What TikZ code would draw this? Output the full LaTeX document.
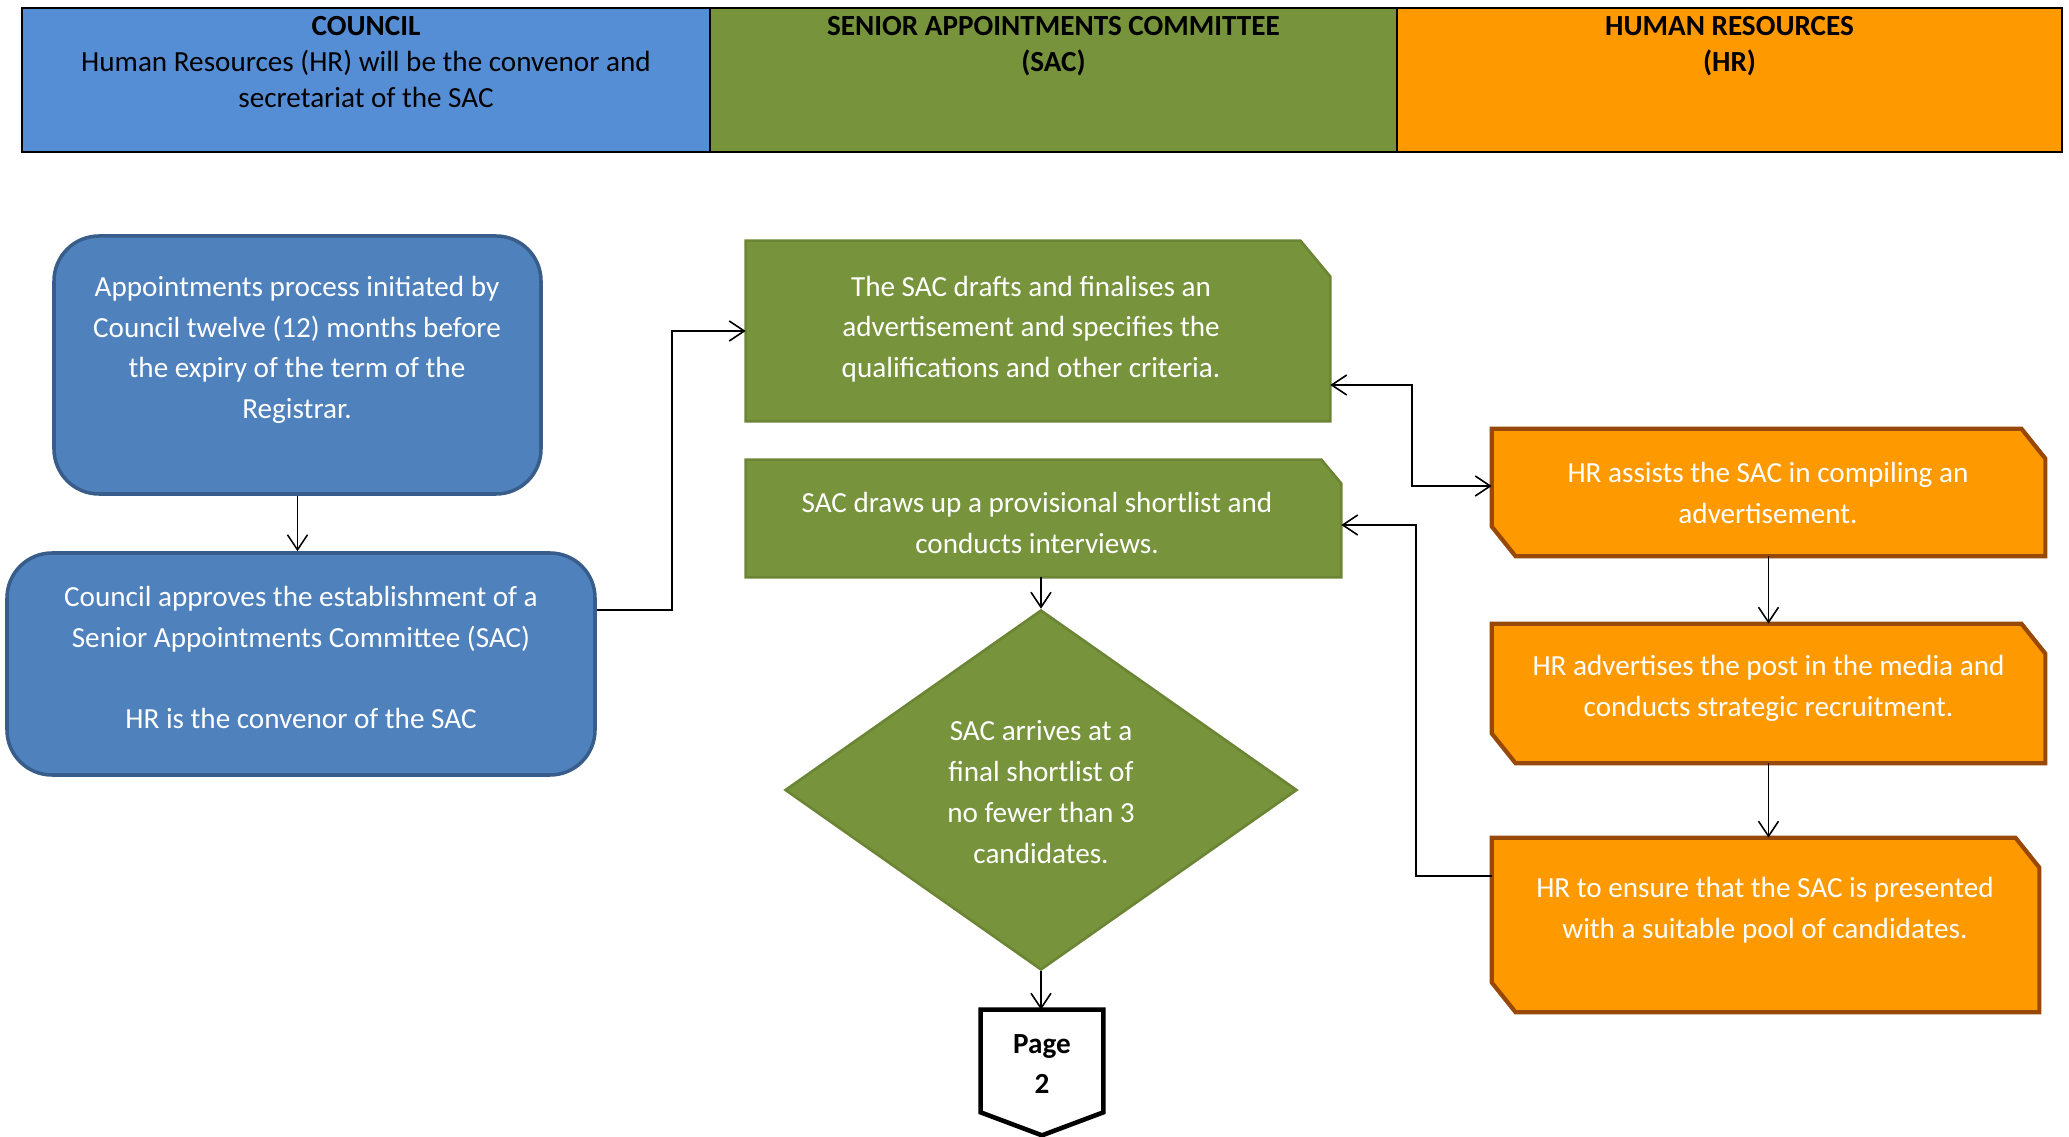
\documentclass[tikz,border=0pt]{standalone}
\usepackage{fontspec}
\setmainfont{Carlito}
\usepackage{tikz}
\usetikzlibrary{shapes.geometric,arrows.meta}
\definecolor{headblue}{HTML}{558ED5}
\definecolor{councilblue}{HTML}{4F81BD}
\definecolor{councilline}{HTML}{385D8A}
\definecolor{sacgreen}{HTML}{77933C}
\definecolor{sacline}{HTML}{6B8535}
\definecolor{hrorange}{HTML}{FF9900}
\definecolor{hrline}{HTML}{984807}
\newcommand{\boxfont}{\fontsize{16.6pt}{23.2pt}\selectfont}
\newcommand{\headcell}[5]{
	\node [draw, line width=1.6pt, fill=#4, minimum width=#3, minimum height=2.88cm] (#1) at (#2) {};
	\node [headtext, anchor=north] at ([yshift=-0.18cm]#1.north) {#5};}
\newcommand{\councilstep}[6]{
	\node [draw=councilline, fill=councilblue, line width=2pt, rounded corners=0.9cm, minimum width=#3, minimum height=#4] (#1) at (#2) {};
	\node [steptext] at (#5) {#6};}
\newcommand{\sacstep}[7]{
	\node [minimum width=#3, minimum height=#4, inner sep=0pt] (#1) at (#2) {};
	\filldraw [fill=sacgreen, draw=sacline, line width=1.5pt] (#1.south west) -- (#1.north west) -- ([xshift=-#5]#1.north east) -- ([yshift=-1.2*#5]#1.north east) -- (#1.south east) -- cycle;
	\node [steptext] at (#6) {#7};}
\newcommand{\hrstep}[6]{
	\node [minimum width=#3, minimum height=#4, inner sep=0pt] (#1) at (#2) {};
	\filldraw [fill=hrorange, draw=hrline, line width=2.4pt] (#1.north west) -- ([xshift=-0.48cm]#1.north east) -- ([yshift=-0.6cm]#1.north east) -- (#1.south east) -- ([xshift=0.48cm]#1.south west) -- ([yshift=0.6cm]#1.south west) -- cycle;
	\node [steptext] at (#5) {#6};}

\begin{document}
\begin{tikzpicture}[>={Straight Barb[length=3mm,width=4mm]},
	headtext/.style={font=\fontsize{16.6pt}{20.7pt}\selectfont, align=center, inner sep=0pt},
	steptext/.style={text=white, font=\boxfont, align=center},
	flow/.style={->, line width=0.9pt}]
	\useasboundingbox (0,0) rectangle (41.38,22.74);
	\headcell{council}{7.32,21.14}{13.76cm}{headblue}{\textbf{COUNCIL}\\Human Resources (HR) will be the convenor and\\secretariat of the SAC}
	\headcell{sac}{21.07,21.14}{13.74cm}{sacgreen}{\textbf{SENIOR APPOINTMENTS COMMITTEE}\\\textbf{(SAC)}}
	\headcell{hr}{34.59,21.14}{13.30cm}{hrorange}{\textbf{HUMAN RESOURCES}\\\textbf{(HR)}}
	\councilstep{initiate}{5.95,15.44}{9.74cm}{5.16cm}{5.94,15.74}{Appointments process initiated by\\Council twelve (12) months before\\the expiry of the term of the\\Registrar.}
	\councilstep{establish}{6.02,9.46}{11.76cm}{4.44cm}{6.02,9.59}{Council approves the establishment of a\\Senior Appointments Committee (SAC)\\[\baselineskip]HR is the convenor of the SAC}
	\sacstep{advert}{20.76,16.12}{11.68cm}{3.60cm}{0.6cm}{20.62,16.16}{The SAC drafts and finalises an\\advertisement and specifies the\\qualifications and other criteria.}
	\sacstep{shortlist}{20.87,12.37}{11.90cm}{2.34cm}{0.4cm}{20.74,12.28}{SAC draws up a provisional shortlist and\\conducts interviews.}
	\node [diamond, fill=sacgreen, draw=sacline, line width=1.5pt, minimum width=10.24cm, minimum height=7.2cm, inner sep=0pt] (final) at (20.82,6.94) {};
	\node [steptext] at (20.82,6.9) {SAC arrives at a\\final shortlist of\\no fewer than 3\\candidates.};
	\node [minimum width=2.44cm, minimum height=2.5cm, inner sep=0pt] (pagetwo) at (20.84,1.29) {};
	\draw [line width=2.6pt, fill=white] (pagetwo.north west) -- (pagetwo.north east) -- ([yshift=0.46cm]pagetwo.south east) -- (pagetwo.south) -- ([yshift=0.46cm]pagetwo.south west) -- cycle;
	\node [font=\boxfont\bfseries, align=center] at (20.84,1.46) {Page\\2};
	\hrstep{assist}{35.37,12.89}{11.06cm}{2.54cm}{35.36,12.88}{HR assists the SAC in compiling an\\advertisement.}
	\hrstep{media}{35.37,8.87}{11.06cm}{2.78cm}{35.37,8.98}{HR advertises the post in the media and\\conducts strategic recruitment.}
	\hrstep{pool}{35.31,4.24}{10.94cm}{3.48cm}{35.30,4.54}{HR to ensure that the SAC is presented\\with a suitable pool of candidates.}
	\coordinate (jog1) at (13.44,10.54);
	\coordinate (jog2) at (28.24,15.04);
	\coordinate (jog3) at (28.32,5.22);
	\draw [flow] (initiate) -- (initiate |- establish.north);
	\draw [flow] (establish.east |- jog1) -- (jog1) |- (advert);
	\draw [flow, <->] (advert.east |- jog2) -- (jog2) |- ([yshift=0.13cm]assist.west);
	\draw [flow] (pool.west |- jog3) -- (jog3) |- ([yshift=-0.13cm]shortlist.east);
	\draw [flow] (assist) -- (media);
	\draw [flow] (media) -- (media |- pool.north);
	\draw [flow] (final |- shortlist.south) -- (final);
	\draw [flow] (final) -- (final |- pagetwo.north);
\end{tikzpicture}
\end{document}
